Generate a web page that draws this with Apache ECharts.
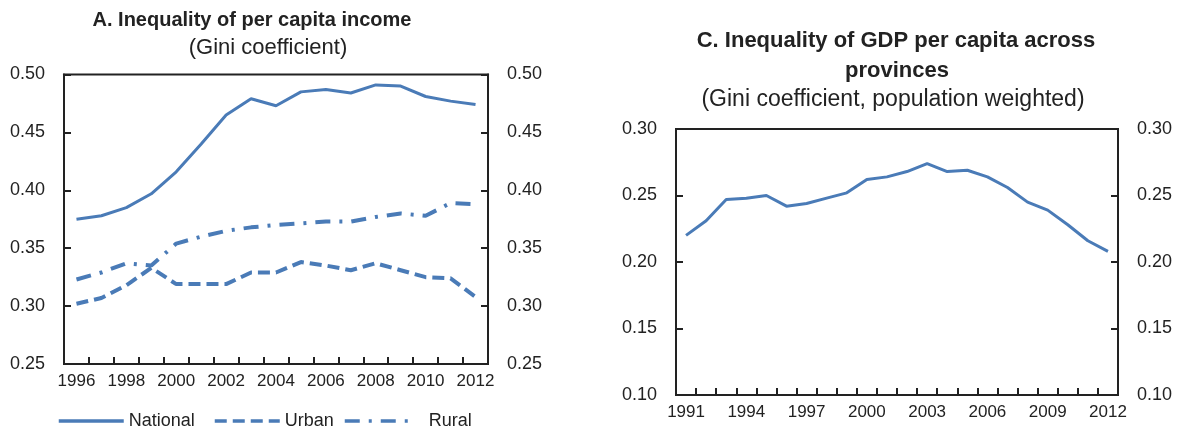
<!DOCTYPE html>
<html>
<head>
<meta charset="utf-8">
<script src="https://cdn.jsdelivr.net/npm/echarts@6/dist/echarts.min.js"></script>
<style>
  html, body { margin: 0; padding: 0; background: #fff; }
  #main { width: 1186px; height: 433px; }
</style>
</head>
<body>
<div id="main"></div>
<script>
// panel A: income inequality
const yearsA = ['1996','1997','1998','1999','2000','2001','2002','2003','2004','2005','2006','2007','2008','2009','2010','2011','2012'];
const national = [0.375, 0.378, 0.385, 0.397, 0.416, 0.440, 0.465, 0.479, 0.473, 0.485, 0.487, 0.484, 0.491, 0.490, 0.481, 0.477, 0.474];
const urban = [0.302, 0.307, 0.318, 0.333, 0.319, 0.319, 0.319, 0.329, 0.329, 0.338, 0.335, 0.331, 0.337, 0.331, 0.325, 0.324, 0.308];
const rural = [0.323, 0.329, 0.337, 0.335, 0.354, 0.360, 0.365, 0.368, 0.370, 0.3715, 0.373, 0.373, 0.377, 0.380, 0.378, 0.389, 0.388];

// panel C: GDP per capita across provinces
const yearsC = ['1991','1992','1993','1994','1995','1996','1997','1998','1999','2000','2001','2002','2003','2004','2005','2006','2007','2008','2009','2010','2011','2012'];
const giniProv = [0.220, 0.231, 0.247, 0.248, 0.250, 0.242, 0.244, 0.248, 0.252, 0.262, 0.264, 0.268, 0.274, 0.268, 0.269, 0.264, 0.256, 0.245, 0.239, 0.228, 0.216, 0.208];

const FONT = '"Liberation Sans Narrow", "Arial Narrow", "Liberation Sans", sans-serif';
const BLUE = '#4a7bb7';
const INK = '#222';

function yAxis(grid, pos, min, max) {
    return {
        type: 'value',
        gridIndex: grid,
        position: pos,
        min: min,
        max: max,
        interval: 0.05,
        axisLine: { show: true, lineStyle: { color: INK, width: 2 } },
        axisTick: { show: true, inside: true, length: 7, lineStyle: { color: INK, width: 2 } },
        splitLine: { show: false },
        axisLabel: {
            color: INK, fontSize: 18, fontFamily: FONT,
            margin: 19,
            formatter: v => v.toFixed(2)
        }
    };
}

function xAxis(grid, data, every) {
    return {
        type: 'category',
        gridIndex: grid,
        data: data,
        boundaryGap: true,
        axisLine: { show: true, lineStyle: { color: INK, width: 2 } },
        axisTick: { show: true, inside: true, length: 7, interval: 0, lineStyle: { color: INK, width: 2 } },
        axisLabel: { color: INK, fontSize: 17, fontFamily: FONT, interval: every, margin: 9 },
        splitLine: { show: false }
    };
}

const legendText = { color: INK, fontSize: 18, fontFamily: FONT };
const legendBase = {
    top: 412, itemWidth: 65, itemHeight: 14, padding: 0,
    itemStyle: { opacity: 0 },
    lineStyle: { width: 3.5 }
};

const option = {
    backgroundColor: '#fff',
    animation: false,
    title: [
        { text: 'A. Inequality of per capita income', left: 252, top: 10, textAlign: 'center', padding: 0,
          textStyle: { color: INK, fontSize: 20, fontWeight: 'bold', fontFamily: FONT } },
        { text: '(Gini coefficient)', left: 268, top: 37, textAlign: 'center', padding: 0,
          textStyle: { color: INK, fontSize: 22, fontWeight: 'normal', fontFamily: FONT } },
        { text: 'C. Inequality of GDP per capita across', left: 896, top: 30, textAlign: 'center', padding: 0,
          textStyle: { color: INK, fontSize: 22, fontWeight: 'bold', fontFamily: FONT } },
        { text: 'provinces', left: 897, top: 60, textAlign: 'center', padding: 0,
          textStyle: { color: INK, fontSize: 22, fontWeight: 'bold', fontFamily: FONT } },
        { text: '(Gini coefficient, population weighted)', left: 893, top: 88, textAlign: 'center', padding: 0,
          textStyle: { color: INK, fontSize: 23, fontWeight: 'normal', fontFamily: FONT } }
    ],
    legend: [
        Object.assign({ data: ['National'], left: 57, textStyle: legendText }, legendBase),
        Object.assign({ data: ['Urban'], left: 213, textStyle: legendText }, legendBase),
        Object.assign({ data: ['Rural'], left: 343, textStyle: Object.assign({ padding: [0, 0, 0, 14] }, legendText) }, legendBase)
    ],
    grid: [
        { left: 64, top: 74.5, width: 424, height: 289.5, show: true, borderColor: INK, borderWidth: 2, backgroundColor: 'transparent' },
        { left: 676, top: 129, width: 442, height: 266, show: true, borderColor: INK, borderWidth: 2, backgroundColor: 'transparent' }
    ],
    xAxis: [
        xAxis(0, yearsA, 1),
        xAxis(1, yearsC, 2)
    ],
    yAxis: [
        yAxis(0, 'left', 0.25, 0.5),
        yAxis(0, 'right', 0.25, 0.5),
        yAxis(1, 'left', 0.1, 0.3),
        yAxis(1, 'right', 0.1, 0.3)
    ],
    series: [
        {
            name: 'National', type: 'line', xAxisIndex: 0, yAxisIndex: 0,
            data: national, symbol: 'none', color: BLUE,
            lineStyle: { color: BLUE, width: 3 }
        },
        {
            name: 'Urban', type: 'line', xAxisIndex: 0, yAxisIndex: 0,
            data: urban, symbol: 'none', color: BLUE,
            lineStyle: { color: BLUE, width: 4, type: [12, 6] }
        },
        {
            name: 'Rural', type: 'line', xAxisIndex: 0, yAxisIndex: 0,
            data: rural, symbol: 'none', color: BLUE,
            lineStyle: { color: BLUE, width: 4, type: [15, 9, 3, 9] }
        },
        {
            name: 'Gini', type: 'line', xAxisIndex: 1, yAxisIndex: 2,
            data: giniProv, symbol: 'none', color: BLUE,
            lineStyle: { color: BLUE, width: 3 }
        }
    ]
};

const myChart = echarts.init(document.getElementById('main'));
myChart.setOption(option);
</script>
</body>
</html>
